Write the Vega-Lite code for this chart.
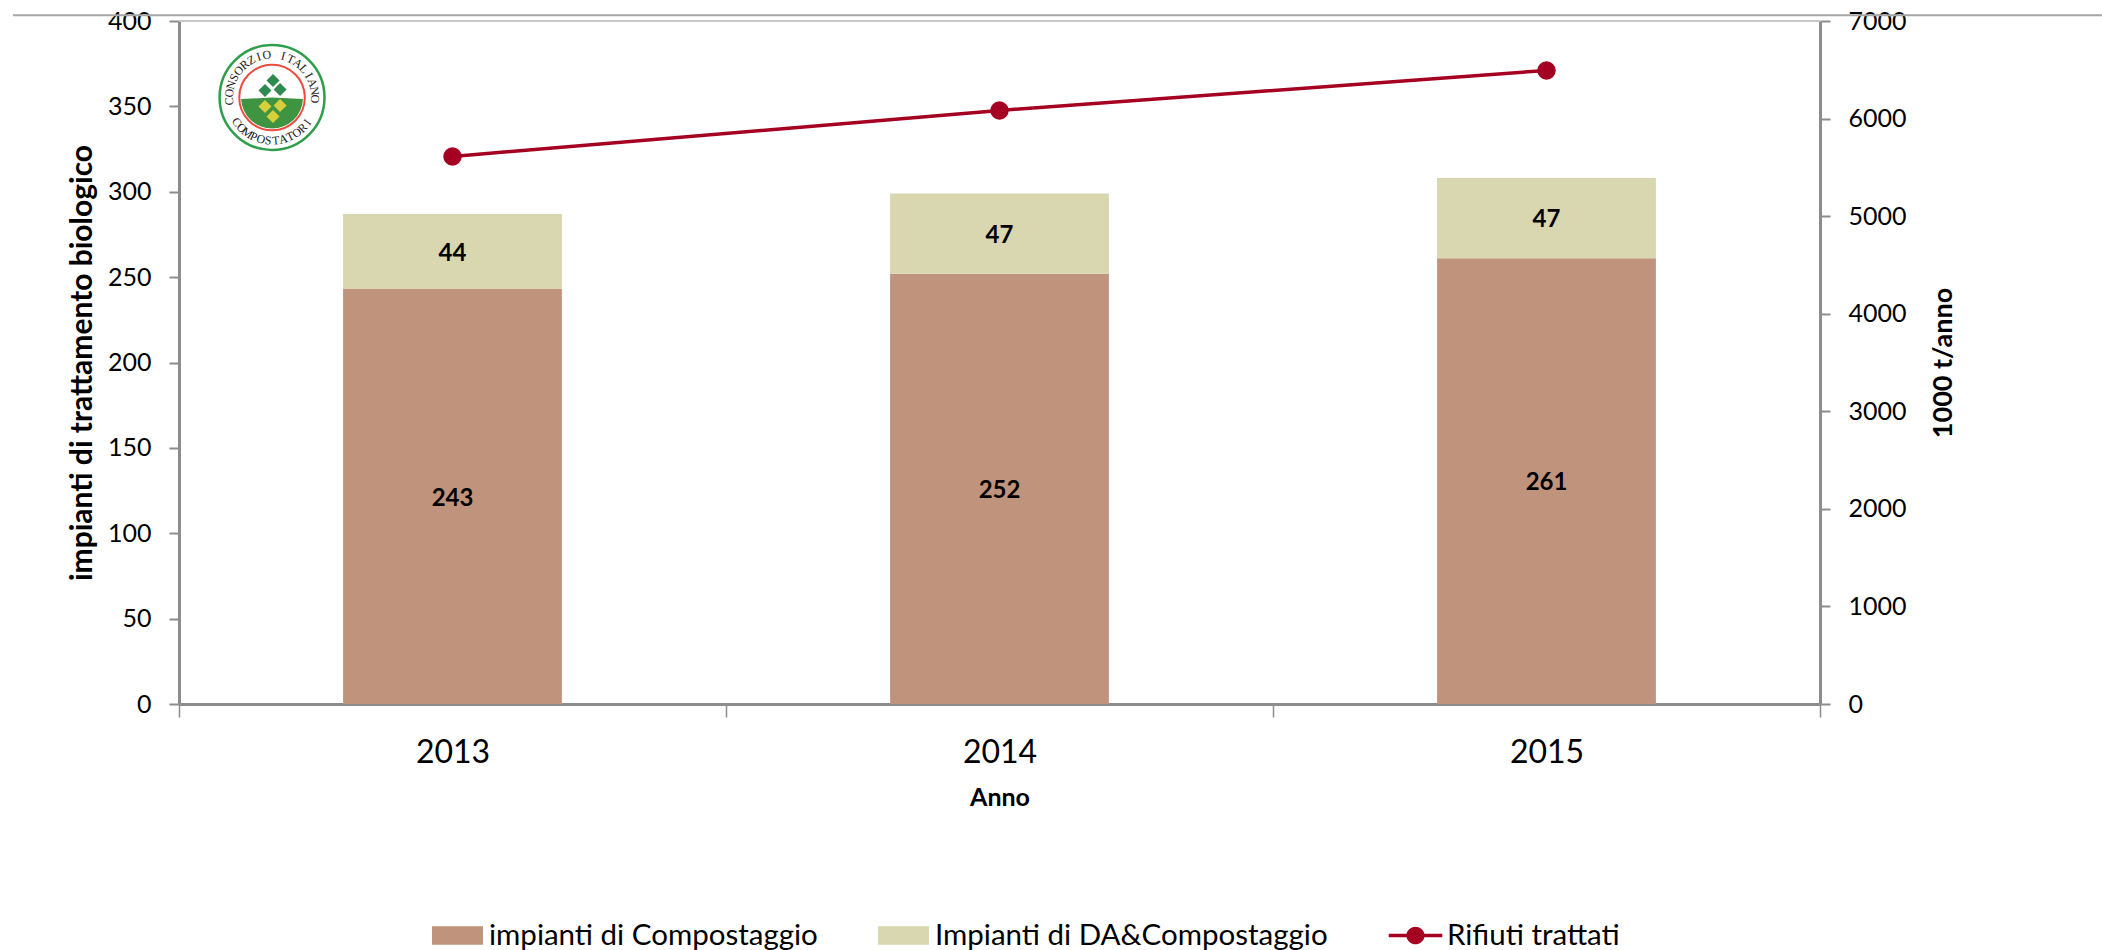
{
"$schema":"https://vega.github.io/schema/vega-lite/v6.json",
"width":1641,"height":683,
"autosize":"none",
"padding":{"left":179,"top":21,"right":282,"bottom":246},
"background":"white",
"config":{"view":{"stroke":null},"font":"Lato","text":{"font":"Lato"}},
"datasets":{
"impianti":[
{"anno":"2013","serie":"impianti di Compostaggio","ordine":1,"valore":243},
{"anno":"2013","serie":"Impianti di DA&Compostaggio","ordine":2,"valore":44},
{"anno":"2014","serie":"impianti di Compostaggio","ordine":1,"valore":252},
{"anno":"2014","serie":"Impianti di DA&Compostaggio","ordine":2,"valore":47},
{"anno":"2015","serie":"impianti di Compostaggio","ordine":1,"valore":261},
{"anno":"2015","serie":"Impianti di DA&Compostaggio","ordine":2,"valore":47}],
"rifiuti":[
{"anno":"2013","serie":"Rifiuti trattati","valore":5612},
{"anno":"2014","serie":"Rifiuti trattati","valore":6083},
{"anno":"2015","serie":"Rifiuti trattati","valore":6493}],
"filetto":[{"a":-0.1012,"b":1.1718,"v":403.3}],
"lettere":[
{"t":"C","x":0.0306,"y":353.0,"r":-95},{"t":"O","x":0.0306,"y":357.8,"r":-84},{"t":"N","x":0.0317,"y":362.5,"r":-73},{"t":"S","x":0.0336,"y":367.0,"r":-62},{"t":"O","x":0.0363,"y":371.0,"r":-51},{"t":"R","x":0.0399,"y":374.5,"r":-40},{"t":"Z","x":0.0440,"y":377.2,"r":-29},{"t":"I","x":0.0486,"y":379.1,"r":-18},{"t":"O","x":0.0535,"y":380.2,"r":-7},
{"t":"I","x":0.0635,"y":379.5,"r":15},{"t":"T","x":0.0682,"y":377.8,"r":26},{"t":"A","x":0.0725,"y":375.3,"r":37},{"t":"L","x":0.0762,"y":372.0,"r":48},{"t":"I","x":0.0792,"y":368.2,"r":59},{"t":"A","x":0.0813,"y":363.8,"r":70},{"t":"N","x":0.0826,"y":359.1,"r":81},{"t":"O","x":0.0829,"y":354.3,"r":92},
{"t":"C","x":0.0352,"y":340.8,"r":55},{"t":"O","x":0.0382,"y":337.4,"r":45},{"t":"M","x":0.0417,"y":334.6,"r":35},{"t":"P","x":0.0456,"y":332.4,"r":25},{"t":"O","x":0.0499,"y":330.9,"r":15},{"t":"S","x":0.0544,"y":330.1,"r":5},{"t":"T","x":0.0590,"y":330.1,"r":-5},{"t":"A","x":0.0635,"y":330.9,"r":-15},{"t":"T","x":0.0678,"y":332.4,"r":-25},{"t":"O","x":0.0717,"y":334.6,"r":-35},{"t":"R","x":0.0752,"y":337.4,"r":-45},{"t":"I","x":0.0782,"y":340.8,"r":-55}],
"foglie":[
{"x":0.0573,"y":365.1,"c":"v"},{"x":0.0524,"y":359.3,"c":"v"},{"x":0.0616,"y":359.9,"c":"v"},
{"x":0.0524,"y":349.9,"c":"g"},{"x":0.0616,"y":350.5,"c":"g"},{"x":0.0573,"y":344.1,"c":"g"}]
},
"resolve":{"scale":{"x":"independent","y":"independent"}},
"layer":[
{"data":{"name":"impianti"},
 "encoding":{"x":{"field":"anno","type":"nominal","scale":{"type":"band","padding":0},
   "axis":{"orient":"bottom","title":"Anno","titleFont":"Lato","titleFontSize":25,"titleFontWeight":"bold","titleColor":"#000000","titlePadding":17,
    "labelAngle":0,"labelFont":"Lato","labelFontSize":32,"labelColor":"#000000","labelPadding":20,
    "domainColor":"#8C8C8C","domainWidth":3,"tickColor":"#8C8C8C","tickWidth":1.5,"tickSize":13,"tickBand":"extent","grid":false}}},
 "layer":[
  {"mark":{"type":"rule","stroke":"#C8C8C8","strokeWidth":2},
   "data":{"values":[{"c":400}]},
   "encoding":{"x":null,"y":{"field":"c","type":"quantitative"}}},
  {"mark":{"type":"bar","width":{"band":0.4}},
   "encoding":{
    "y":{"field":"valore","type":"quantitative","stack":"zero","scale":{"domain":[0,400],"nice":false},
     "axis":{"orient":"left","title":"impianti di trattamento biologico","titleFont":"Lato","titleFontSize":30,"titleFontWeight":"bold","titleColor":"#000000","titlePadding":10,
      "values":[0,50,100,150,200,250,300,350,400],"labelFont":"Lato","labelFontSize":25,"labelColor":"#000000","labelPadding":18,
      "domainColor":"#8C8C8C","domainWidth":3,"tickColor":"#8C8C8C","tickWidth":2,"tickSize":10,"grid":false}},
    "order":{"field":"ordine","type":"ordinal"},
    "color":{"field":"serie","type":"nominal",
     "scale":{"domain":["impianti di Compostaggio","Impianti di DA&Compostaggio","Rifiuti trattati"],"range":["#C0947C","#D9D7AF","#A50021"]},
     "legend":{"title":null,"orient":"none","legendX":253,"legendY":889,"direction":"horizontal","labelFont":"Lato","labelFontSize":29.5,"labelColor":"#000000","symbolSize":2601,"columnPadding":60,"labelOffset":6,"labelLimit":500,"symbolStrokeWidth":0}}}},
  {"mark":{"type":"text","fontWeight":"bold","fontSize":24,"font":"Lato","fill":"#000000","baseline":"middle","dy":2},
   "encoding":{
    "y":{"field":"valore","type":"quantitative","stack":"zero","bandPosition":0.5},
    "order":{"field":"ordine","type":"ordinal"},
    "text":{"field":"valore","type":"quantitative"}}}
 ]},
{"data":{"name":"rifiuti"},
 "encoding":{"x":{"field":"anno","type":"nominal","scale":{"type":"band","padding":0},"axis":null},
  "y":{"field":"valore","type":"quantitative","scale":{"domain":[0,7000],"nice":false},
   "axis":{"orient":"right","format":"d","title":"1000 t/anno","titleFont":"Lato","titleFontSize":27,"titleFontWeight":"bold","titleColor":"#000000","titleAngle":-90,"titlePadding":51,
    "values":[0,1000,2000,3000,4000,5000,6000,7000],"labelFont":"Lato","labelFontSize":25,"labelColor":"#000000","labelPadding":18,
    "domainColor":"#8C8C8C","domainWidth":3,"tickColor":"#8C8C8C","tickWidth":2,"tickSize":10,"grid":false}}},
 "layer":[
  {"mark":{"type":"line","strokeWidth":3.5},
   "encoding":{"color":{"field":"serie","type":"nominal"}}},
  {"mark":{"type":"point","filled":true,"size":340,"opacity":1,"shape":"circle","fill":"#A50021","stroke":null}},
  {"transform":[{"filter":"datum.anno === 'nessuno'"}],
   "mark":{"type":"point","filled":true,"size":2601,"opacity":1},
   "encoding":{"color":{"field":"serie","type":"nominal"},
    "shape":{"field":"serie","type":"nominal","scale":{"domain":["impianti di Compostaggio","Impianti di DA&Compostaggio","Rifiuti trattati"],
     "range":["M-1,-0.36H1V0.36H-1Z","M-1,-0.36H1V0.36H-1Z","M-1.05,-0.07H-0.35A0.36,0.36 0 0 1 0.35,-0.07H1.05V0.07H0.35A0.36,0.36 0 0 1 -0.35,0.07H-1.05Z"]}}}}
 ]},
{"data":{"name":"filetto"},
 "layer":[
  {"mark":{"type":"rule","stroke":"#A6A6A6","strokeWidth":2,"clip":false},
   "encoding":{
    "x":{"field":"a","type":"quantitative","scale":{"domain":[0,1],"nice":false,"zero":false},"axis":null},
    "x2":{"field":"b"},
    "y":{"field":"v","type":"quantitative","scale":{"domain":[0,400],"nice":false},"axis":null}}},
  {"data":{"values":[{"x":0.0567,"y":355.2}]},
   "mark":{"type":"point","filled":false,"stroke":"#2E9E4A","strokeWidth":2.5,"size":11000,"shape":"circle","opacity":1},
   "encoding":{"x":{"field":"x","type":"quantitative"},"y":{"field":"y","type":"quantitative"}}},
  {"data":{"values":[{"x":0.0567,"y":355.2}]},
   "mark":{"type":"arc","outerRadius":31,"theta":1.62,"theta2":4.66,"fill":"#3E9440"},
   "encoding":{"x":{"field":"x","type":"quantitative"},"y":{"field":"y","type":"quantitative"}}},
  {"data":{"values":[{"x":0.0567,"y":355.2}]},
   "mark":{"type":"point","filled":false,"stroke":"#EE4B3E","strokeWidth":2,"size":4300,"shape":"circle","opacity":1},
   "encoding":{"x":{"field":"x","type":"quantitative"},"y":{"field":"y","type":"quantitative"}}},
  {"data":{"name":"foglie"},
   "mark":{"type":"point","filled":true,"shape":"diamond","size":170,"opacity":1},
   "encoding":{"x":{"field":"x","type":"quantitative"},"y":{"field":"y","type":"quantitative"},
    "fill":{"field":"c","type":"nominal","scale":{"domain":["v","g"],"range":["#2F8A50","#D8CF3C"]},"legend":null}}},
  {"data":{"name":"lettere"},
   "mark":{"type":"text","font":"Liberation Serif","fontSize":12,"fill":"#222222","align":"center","baseline":"middle"},
   "encoding":{"x":{"field":"x","type":"quantitative"},"y":{"field":"y","type":"quantitative"},
    "text":{"field":"t"},"angle":{"field":"r","type":"quantitative","scale":null}}}
 ]}
]
}
